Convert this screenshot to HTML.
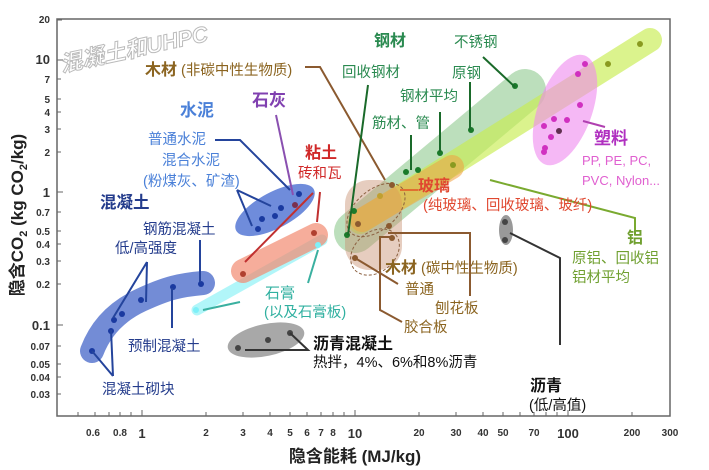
<!DOCTYPE html>
<html><head><meta charset="utf-8"><style>
html,body{margin:0;padding:0;background:#fff;}
svg{display:block;font-family:"Liberation Sans","Noto Sans CJK SC",sans-serif;}
.t{font-size:14.5px}
.b{font-weight:bold}
</style></head><body>
<svg width="709" height="470" viewBox="0 0 709 470" xmlns="http://www.w3.org/2000/svg">
<rect x="0" y="0" width="709" height="470" fill="#fff"/>
<rect x="57" y="19" width="613" height="397" fill="none" stroke="#666" stroke-width="1.5"/>
<text x="62" y="72" transform="rotate(-12 62 72)" font-size="22" font-style="italic" font-weight="bold" fill="#fff" stroke="#bbb" stroke-width="1">混凝土和UHPC</text>

<g font-size="10" font-weight="bold" fill="#333" text-anchor="end">
<text x="50" y="23">20</text><text x="50" y="64" font-size="13">10</text><text x="50" y="83">7</text><text x="50" y="103">5</text><text x="50" y="116">4</text><text x="50" y="133">3</text><text x="50" y="156">2</text><text x="50" y="197" font-size="13">1</text><text x="50" y="216">0.7</text><text x="50" y="235">0.5</text><text x="50" y="248">0.4</text><text x="50" y="265">0.3</text><text x="50" y="288">0.2</text><text x="50" y="330" font-size="13">0.1</text><text x="50" y="350">0.07</text><text x="50" y="368">0.05</text><text x="50" y="381">0.04</text><text x="50" y="398">0.03</text>
</g>
<g stroke="#666" stroke-width="1">
<path d="M57 20h5M57 60h6M57 79h4M57 99h4M57 112h4M57 129h4M57 152h4M57 192h6M57 212h4M57 231h4M57 244h4M57 261h4M57 284h4M57 325h6M57 346h4M57 364h4M57 377h4M57 394h4"/>
<path d="M78 416v-4M95 416v-4M109 416v-4M120 416v-4M131 416v-4M142 416v-6M206 416v-4M243 416v-4M270 416v-4M290 416v-4M307 416v-4M321 416v-4M333 416v-4M344 416v-4M355 416v-6M419 416v-4M456 416v-4M483 416v-4M503 416v-4M520 416v-4M534 416v-4M546 416v-4M557 416v-4M568 416v-6M632 416v-4M670 416v-4"/>
</g>
<g font-size="10" font-weight="bold" fill="#333" text-anchor="middle">
<text x="93" y="436">0.6</text><text x="120" y="436">0.8</text><text x="142" y="438" font-size="13">1</text><text x="206" y="436">2</text><text x="243" y="436">3</text><text x="270" y="436">4</text><text x="290" y="436">5</text><text x="307" y="436">6</text><text x="321" y="436">7</text><text x="333" y="436">8</text><text x="355" y="438" font-size="13">10</text><text x="419" y="436">20</text><text x="456" y="436">30</text><text x="483" y="436">40</text><text x="503" y="436">50</text><text x="534" y="436">70</text><text x="568" y="438" font-size="13">100</text><text x="632" y="436">200</text><text x="670" y="436">300</text>
</g>
<text x="355" y="462" text-anchor="middle" font-size="17" font-weight="bold" fill="#222">隐含能耗 (MJ/kg)</text>
<text transform="translate(23 215) rotate(-90)" text-anchor="middle" font-size="17" font-weight="bold" fill="#222">隐含CO<tspan font-size="11" dy="4">2</tspan><tspan dy="-4"> (kg CO</tspan><tspan font-size="11" dy="4">2</tspan><tspan dy="-4">/kg)</tspan></text>

<path d="M92 351 C100 330 115 312 141 300 S180 285 203 283" fill="none" stroke="#4466c8" stroke-opacity="0.75" stroke-width="24" stroke-linecap="round"/>
<line x1="197" y1="310" x2="322" y2="240" stroke="#9ef4f8" stroke-opacity="0.8" stroke-width="11" stroke-linecap="round"/>
<line x1="243" y1="271" x2="316" y2="235" stroke="#f28a70" stroke-opacity="0.7" stroke-width="24" stroke-linecap="round"/>
<ellipse cx="275" cy="210" rx="44" ry="18" transform="rotate(-28 275 210)" fill="#3f66cf" fill-opacity="0.75"/>
<ellipse cx="266" cy="340" rx="39" ry="16" transform="rotate(-12 266 340)" fill="#999" fill-opacity="0.85"/>
<ellipse cx="506" cy="230" rx="7" ry="15" fill="#999"/>
<line x1="355" y1="232" x2="525" y2="90" stroke="#8fc98f" stroke-opacity="0.6" stroke-width="42" stroke-linecap="round"/>
<line x1="360" y1="222" x2="650" y2="40" stroke="#c8ec50" stroke-opacity="0.65" stroke-width="24" stroke-linecap="round"/>
<rect x="345" y="180" width="57" height="90" rx="24" fill="#c89070" fill-opacity="0.45"/>
<line x1="362" y1="220" x2="452" y2="167" stroke="#f0a040" stroke-opacity="0.55" stroke-width="24" stroke-linecap="round"/>
<ellipse cx="376" cy="210" rx="34" ry="20" transform="rotate(-40 376 210)" fill="none" stroke="#8b6040" stroke-dasharray="3 2"/>
<ellipse cx="375" cy="252" rx="27" ry="20" transform="rotate(-40 375 252)" fill="none" stroke="#8b6040" stroke-dasharray="3 2"/>
<ellipse cx="565" cy="110" rx="27" ry="58" transform="rotate(20 565 110)" fill="#ee88ee" fill-opacity="0.6"/>

<g fill="#1a3aa0">
<circle cx="92" cy="351" r="3"/><circle cx="111" cy="331" r="3"/><circle cx="114" cy="320" r="3"/><circle cx="122" cy="314" r="3"/><circle cx="141" cy="300" r="3"/><circle cx="173" cy="287" r="3"/><circle cx="201" cy="284" r="3"/>
<circle cx="258" cy="229" r="3"/><circle cx="262" cy="219" r="3"/><circle cx="275" cy="216" r="3"/><circle cx="281" cy="208" r="3"/><circle cx="299" cy="194" r="3"/>
</g>
<circle cx="295" cy="205" r="3" fill="#7a3050"/>
<circle cx="243" cy="274" r="3" fill="#b04030"/><circle cx="314" cy="233" r="3" fill="#b04030"/>
<circle cx="318" cy="245" r="3" fill="#7ef0f8"/><circle cx="196" cy="310" r="3" fill="#7ef0f8"/>
<g fill="#444"><circle cx="238" cy="348" r="3"/><circle cx="268" cy="340" r="3"/><circle cx="290" cy="333" r="3"/><circle cx="505" cy="222" r="3"/><circle cx="505" cy="240" r="3"/></g>
<g fill="#1a7a2a"><circle cx="515" cy="86" r="3"/><circle cx="471" cy="130" r="3"/><circle cx="440" cy="153" r="3"/><circle cx="418" cy="170" r="3"/><circle cx="406" cy="172" r="3"/><circle cx="354" cy="211" r="3"/><circle cx="347" cy="235" r="3"/></g>
<g fill="#8a9a20"><circle cx="640" cy="44" r="3"/><circle cx="608" cy="64" r="3"/><circle cx="453" cy="165" r="3"/></g>
<g fill="#d030c0"><circle cx="585" cy="64" r="3"/><circle cx="578" cy="74" r="3"/><circle cx="580" cy="105" r="3"/><circle cx="554" cy="119" r="3"/><circle cx="567" cy="120" r="3"/><circle cx="544" cy="126" r="3"/><circle cx="551" cy="137" r="3"/><circle cx="544" cy="152" r="3"/><circle cx="545" cy="148" r="3"/></g>
<circle cx="559" cy="131" r="3" fill="#603050"/>
<g fill="#8b5a30"><circle cx="392" cy="185" r="3"/><circle cx="358" cy="224" r="3"/><circle cx="389" cy="226" r="3"/><circle cx="392" cy="238" r="3"/><circle cx="355" cy="258" r="3"/></g>
<circle cx="380" cy="196" r="3" fill="#c0a030"/>

<g fill="none" stroke-width="2">
<path d="M305 67 H320 L385 180" stroke="#8b5a30"/>
<path d="M276 115 L293 195" stroke="#8a50b0"/>
<path d="M215 140 H240 L290 190" stroke="#24449c"/>
<path d="M237 190 L252 226 M237 190 L271 206" stroke="#24449c"/>
<path d="M320 192 L317 222 M245 262 L313 193" stroke="#c03030"/>
<path d="M200 240 V282 M147 262 L113 318 M147 262 L146 302 M172 328 V288 M113 376 L92 351 M113 376 L111 330" stroke="#24449c"/>
<path d="M308 283 L318 250 M240 302 L203 310" stroke="#3ab0a0"/>
<path d="M245 350 H308 L290 333" stroke="#333"/>
<path d="M368 85 L348 235 M440 112 V152 M411 135 V170 M470 82 V130 M483 57 L515 87" stroke="#1a6a2a"/>
<path d="M418 190 H400" stroke="#e07030"/>
<path d="M583 121 L605 127" stroke="#b040b0"/>
<path d="M490 180 L635 218 V235" stroke="#7aaa30"/>
<path d="M398 284 L355 258 M470 296 V233 H388 M402 322 L380 310 V237 H392" stroke="#8b5a30"/>
<path d="M510 233 L560 258 V345" stroke="#333"/>
</g>

<g class="t">
<text x="145" y="75" fill="#8b6420"><tspan class="b" font-size="16">木材</tspan> (非碳中性生物质)</text>
<text x="180" y="116" fill="#4a80d8" class="b" font-size="17">水泥</text>
<text x="252" y="106" fill="#8040b0" class="b" font-size="17">石灰</text>
<text x="148" y="144" fill="#4a80d8">普通水泥</text>
<text x="162" y="165" fill="#4a80d8">混合水泥</text>
<text x="143" y="186" fill="#4a80d8">(粉煤灰、矿渣)</text>
<text x="305" y="158" fill="#d02828" class="b" font-size="16">粘土</text>
<text x="298" y="178" fill="#d02828">砖和瓦</text>
<text x="100" y="208" fill="#243c8c" class="b" font-size="16.5">混凝土</text>
<text x="143" y="234" fill="#243c8c">钢筋混凝土</text>
<text x="115" y="253" fill="#243c8c">低/高强度</text>
<text x="128" y="351" fill="#243c8c">预制混凝土</text>
<text x="102" y="394" fill="#243c8c">混凝土砌块</text>
<text x="265" y="298" fill="#30b0a0" font-size="15">石膏</text>
<text x="264" y="317" fill="#30b0a0">(以及石膏板)</text>
<text x="313" y="349" fill="#111" class="b" font-size="16">沥青混凝土</text>
<text x="313" y="367" fill="#111">热拌，4%、6%和8%沥青</text>
<text x="374" y="46" fill="#2a8a50" class="b" font-size="16">钢材</text>
<text x="342" y="77" fill="#2a8a50">回收钢材</text>
<text x="454" y="47" fill="#2a8a50">不锈钢</text>
<text x="452" y="78" fill="#2a8a50">原钢</text>
<text x="400" y="101" fill="#2a8a50">钢材平均</text>
<text x="372" y="128" fill="#2a8a50">筋材、管</text>
<text x="418" y="191" fill="#e04830" class="b" font-size="16">玻璃</text>
<text x="423" y="210" fill="#e04830">(纯玻璃、回收玻璃、玻纤)</text>
<text x="594" y="144" fill="#b030c0" class="b" font-size="17">塑料</text>
<text x="582" y="165" fill="#e060d0" font-size="13">PP, PE, PC,</text>
<text x="582" y="185" fill="#e060d0" font-size="13">PVC, Nylon...</text>
<text x="627" y="243" fill="#70a030" class="b" font-size="16">铝</text>
<text x="572" y="263" fill="#70a030">原铝、回收铝</text>
<text x="572" y="282" fill="#70a030">铝材平均</text>
<text x="385" y="273" fill="#8b6420"><tspan class="b" font-size="16">木材</tspan> (碳中性生物质)</text>
<text x="405" y="294" fill="#8b6420">普通</text>
<text x="435" y="313" fill="#8b6420">刨花板</text>
<text x="404" y="332" fill="#8b6420">胶合板</text>
<text x="530" y="391" fill="#111" class="b" font-size="16">沥青</text>
<text x="529" y="410" fill="#111">(低/高值)</text>
</g>
</svg>
</body></html>
